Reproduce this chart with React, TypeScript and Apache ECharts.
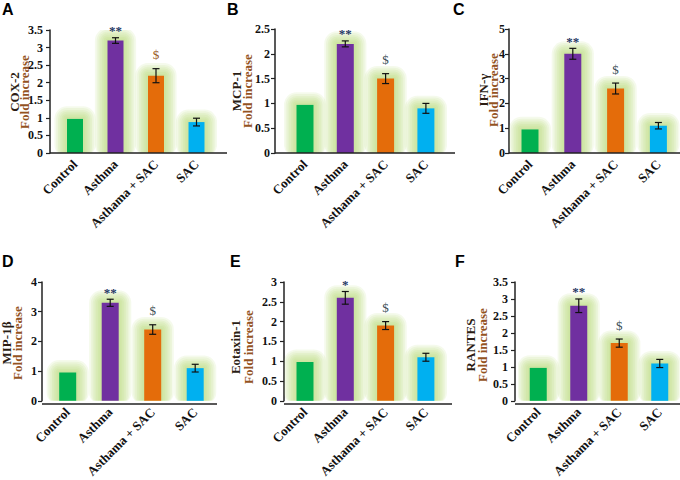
import React, { useEffect, useRef } from "react";
import * as echarts from "echarts";

const categories = ["Control", "Asthma", "Asthama + SAC", "SAC"];
const barColors = ["#00b050", "#7030a0", "#e46c0a", "#00b0f0"];

const panelLetters = ["A", "B", "C", "D", "E", "F"];
const markerNames = ["COX-2", "MCP-1", "IFN-γ", "MIP-1β", "Eotaxin-1", "RANTES"];
const yTitle2 = "Fold increase";

const cox2Values = [0.97, 3.2, 2.2, 0.88];
const cox2Errors = [0, 0.08, 0.2, 0.11];
const mcp1Values = [0.97, 2.2, 1.5, 0.9];
const mcp1Errors = [0, 0.06, 0.1, 0.1];
const ifngValues = [0.95, 4.0, 2.6, 1.1];
const ifngErrors = [0, 0.22, 0.22, 0.13];
const mip1bValues = [0.95, 3.3, 2.4, 1.1];
const mip1bErrors = [0, 0.12, 0.16, 0.13];
const eotaxinValues = [0.98, 2.6, 1.9, 1.1];
const eotaxinErrors = [0, 0.16, 0.1, 0.1];
const rantesValues = [0.97, 2.8, 1.7, 1.1];
const rantesErrors = [0, 0.2, 0.12, 0.12];

const sigCOX2 = ["", "**", "$", ""];
const sigMCP1 = ["", "**", "$", ""];
const sigIFNG = ["", "**", "$", ""];
const sigMIP1B = ["", "**", "$", ""];
const sigEotaxin = ["", "*", "$", ""];
const sigRANTES = ["", "**", "$", ""];

const yMaxes = [3.5, 2.5, 5, 4, 3, 3.5];
const yIntervals = [0.5, 0.5, 1, 1, 0.5, 0.5];

const allValues = [cox2Values, mcp1Values, ifngValues, mip1bValues, eotaxinValues, rantesValues];
const allErrors = [cox2Errors, mcp1Errors, ifngErrors, mip1bErrors, eotaxinErrors, rantesErrors];
const allSig = [sigCOX2, sigMCP1, sigIFNG, sigMIP1B, sigEotaxin, sigRANTES];

// layout (pixels)
const layouts = [
  { axisX: 50, firstCenter: 75, band: 40.5, axisEnd: 227, top: 30, zero: 153, bw: 16, lm: 7, t1: 14, t2: 24, ty: 92, lx: 2, ly: 1, dollar: "#9a5a1e" },
  { axisX: 275, firstCenter: 305, band: 40.3, axisEnd: 455, top: 29, zero: 153, bw: 17, lm: 5, t1: 236, t2: 247, ty: 91, lx: 227, ly: 1, dollar: "#3d4f57" },
  { axisX: 509, firstCenter: 530, band: 42.8, axisEnd: 680, top: 29, zero: 153, bw: 17, lm: 4, t1: 483, t2: 493, ty: 90, lx: 453, ly: 1, dollar: "#3d4f57" },
  { axisX: 42, firstCenter: 67.7, band: 42.5, axisEnd: 217, top: 282, zero: 404, bw: 17, lm: 5, t1: 6, t2: 17, ty: 343, lx: 2, ly: 253, dollar: "#3d4f57" },
  { axisX: 284, firstCenter: 305, band: 40.3, axisEnd: 452, top: 282, zero: 404, bw: 17, lm: 7, t1: 235, t2: 248, ty: 347, lx: 230, ly: 253, dollar: "#3d4f57" },
  { axisX: 515, firstCenter: 538.3, band: 40.6, axisEnd: 680, top: 282, zero: 404, bw: 17, lm: 7, t1: 470, t2: 482, ty: 345, lx: 455, ly: 253, dollar: "#3d4f57" },
];

const SERIF = "Liberation Serif, Times New Roman, serif";
const GLOW_STEPS = 7;

export default function App() {
  const ref = useRef<HTMLDivElement>(null);
  useEffect(() => {
    if (!ref.current) return;
    const chart = echarts.init(ref.current, null, { renderer: "svg" });
    const grids: any[] = [];
    const xAxes: any[] = [];
    const yAxes: any[] = [];
    const series: any[] = [];
    const graphics: any[] = [];

    layouts.forEach((L, p) => {
      const gl = L.firstCenter - L.band / 2;
      grids.push({ left: gl, top: L.top, width: L.band * 4, height: L.zero - L.top });
      xAxes.push({
        type: "category",
        gridIndex: p,
        data: categories,
        axisLine: { show: false },
        axisTick: { show: false },
        axisLabel: {
          rotate: 45,
          interval: 0,
          margin: 9,
          fontFamily: SERIF,
          fontWeight: "bold",
          fontSize: 13,
          color: "#111",
        },
      });
      yAxes.push({
        type: "value",
        gridIndex: p,
        min: 0,
        max: yMaxes[p],
        interval: yIntervals[p],
        offset: gl - L.axisX,
        splitLine: { show: false },
        axisLine: { show: true, lineStyle: { color: "#222", width: 1.5 } },
        axisTick: { show: true, length: 4, lineStyle: { color: "#222", width: 1.2 } },
        axisLabel: {
          margin: L.lm,
          fontFamily: SERIF,
          fontWeight: "bold",
          fontSize: 12,
          color: "#111",
        },
      });
      const bw = L.bw;
      // soft glow layer (stacked translucent rects centred on each bar)
      series.push({
        type: "custom",
        xAxisIndex: p,
        yAxisIndex: p,
        clip: true,
        silent: true,
        z: 1,
        data: allValues[p].map((v, i) => [i, v]),
        renderItem: (params: any, api: any) => {
          const i = api.value(0);
          const v = api.value(1);
          const t = api.coord([i, v]);
          const b = api.coord([i, 0]);
          const children: any[] = [];
          for (let k = GLOW_STEPS; k >= 1; k--) {
            const pad = k * 1.8;
            const w = bw + 2 * pad;
            children.push({
              type: "rect",
              shape: { x: t[0] - w / 2, y: t[1] - pad, width: w, height: b[1] - t[1] + pad + 4, r: pad },
              style: { fill: "rgba(176,220,112,0.13)" },
            });
          }
          return { type: "group", children };
        },
      });
      series.push({
        type: "bar",
        xAxisIndex: p,
        yAxisIndex: p,
        barWidth: bw,
        z: 3,
        data: allValues[p].map((v, i) => ({
          value: v,
          itemStyle: { color: barColors[i] },
        })),
      });
      const errs = allErrors[p];
      const sig = allSig[p];
      const dollarColor = L.dollar;
      series.push({
        type: "custom",
        xAxisIndex: p,
        yAxisIndex: p,
        data: allValues[p].map((v, i) => [i, v, errs[i]]),
        z: 5,
        renderItem: (params: any, api: any) => {
          const i = api.value(0);
          const v = api.value(1);
          const e = api.value(2);
          const children: any[] = [];
          const topP = api.coord([i, v + e]);
          if (e > 0) {
            const botP = api.coord([i, v - e]);
            const s = { stroke: "#111", lineWidth: 1.2 };
            children.push({ type: "line", shape: { x1: topP[0], y1: topP[1], x2: botP[0], y2: botP[1] }, style: s });
            children.push({ type: "line", shape: { x1: topP[0] - 3.5, y1: topP[1], x2: topP[0] + 3.5, y2: topP[1] }, style: s });
            children.push({ type: "line", shape: { x1: botP[0] - 3.5, y1: botP[1], x2: botP[0] + 3.5, y2: botP[1] }, style: s });
          }
          const m = sig[i];
          if (m) {
            const isStar = m.indexOf("*") >= 0;
            children.push({
              type: "text",
              x: topP[0],
              y: topP[1] - (isStar ? 7 : 14),
              style: {
                text: m,
                align: "center",
                verticalAlign: "middle",
                font: isStar ? `bold 13px ${SERIF}` : `13px ${SERIF}`,
                fill: isStar ? "#1f3864" : dollarColor,
              },
            });
          }
          return { type: "group", children };
        },
      });
      // x axis line
      graphics.push({
        type: "line",
        shape: { x1: L.axisX, y1: L.zero, x2: L.axisEnd, y2: L.zero },
        style: { stroke: "#222", lineWidth: 1.5 },
        z: 10,
      });
      graphics.push({
        type: "text",
        left: L.lx,
        top: L.ly,
        style: { text: panelLetters[p], font: "bold 16px Liberation Sans, Arial, sans-serif", fill: "#000" },
      });
      graphics.push({
        type: "text",
        x: L.t1,
        y: L.ty,
        rotation: Math.PI / 2,
        style: {
          text: markerNames[p],
          align: "center",
          verticalAlign: "middle",
          font: `bold 13px ${SERIF}`,
          fill: "#2b1d14",
        },
      });
      graphics.push({
        type: "text",
        x: L.t2,
        y: L.ty,
        rotation: Math.PI / 2,
        style: {
          text: yTitle2,
          align: "center",
          verticalAlign: "middle",
          font: `bold 13px ${SERIF}`,
          fill: "#94531f",
        },
      });
    });

    chart.setOption({
      animation: false,
      backgroundColor: "#ffffff",
      grid: grids,
      xAxis: xAxes,
      yAxis: yAxes,
      series,
      graphic: graphics,
    });
    return () => chart.dispose();
  }, []);
  return (
    <div
      ref={ref}
      style={{ position: "fixed", left: 0, top: 0, width: 680, height: 480 }}
    />
  );
}
